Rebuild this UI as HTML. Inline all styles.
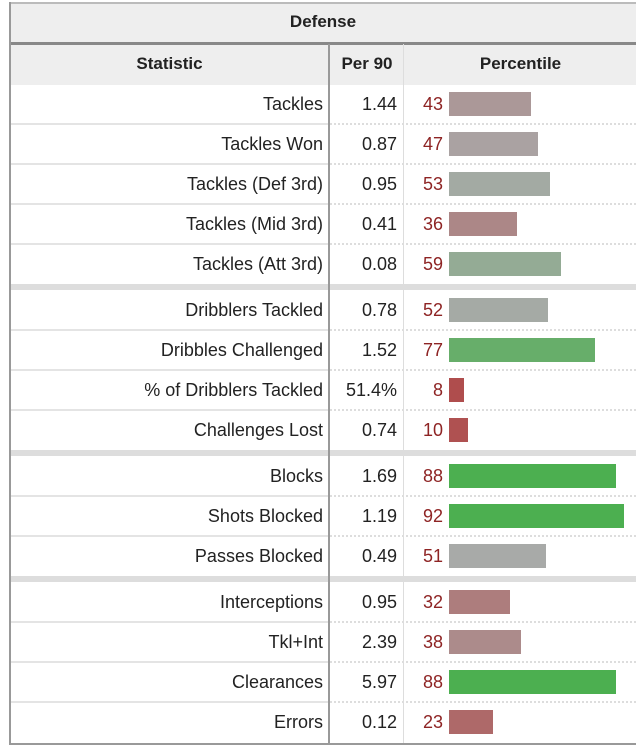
<!DOCTYPE html>
<html><head><meta charset="utf-8">
<style>
body{margin:0;width:636px;height:750px;background:#fff;overflow:hidden;font-family:"Liberation Sans",sans-serif;position:relative}
.a{position:absolute}
.t{position:absolute;font-size:18px;color:#222;line-height:40px;white-space:nowrap}
</style></head><body>
<div class="a" style="left:10px;top:2px;width:626px;height:40px;background:#eee;border-top:2px solid #bbb"></div>
<div class="t" style="left:10px;top:2px;width:626px;text-align:center;font-weight:bold;font-size:17px">Defense</div>
<div class="a" style="left:10px;top:42px;width:626px;height:40px;background:#eee;border-top:3px solid #888"></div>
<div class="t" style="left:10px;top:44px;width:319px;text-align:center;font-weight:bold;font-size:17px">Statistic</div>
<div class="t" style="left:331px;top:44px;width:72px;text-align:center;font-weight:bold;font-size:17px">Per 90</div>
<div class="t" style="left:405px;top:44px;width:231px;text-align:center;font-weight:bold;font-size:17px">Percentile</div>
<div id="rows"></div>
<div class="a" style="left:9px;top:2px;width:2px;height:743px;background:#999"></div>
<div class="a" style="left:328px;top:44px;width:2px;height:700px;background:#999"></div>
<div class="a" style="left:403px;top:44px;width:1px;height:700px;background:#ddd"></div>
<div class="a" style="left:10px;top:743px;width:626px;height:2px;background:#999"></div>
<script>
const stats=["Tackles","Tackles Won","Tackles (Def 3rd)","Tackles (Mid 3rd)","Tackles (Att 3rd)","Dribblers Tackled","Dribbles Challenged","% of Dribblers Tackled","Challenges Lost","Blocks","Shots Blocked","Passes Blocked","Interceptions","Tkl+Int","Clearances","Errors"];
const per90=["1.44","0.87","0.95","0.41","0.08","0.78","1.52","51.4%","0.74","1.69","1.19","0.49","0.95","2.39","5.97","0.12"];
const percentile=[43,47,53,36,59,52,77,8,10,88,92,51,32,38,88,23];
const groupSizes=[5,4,3,4];
const pxPerPct=1.9;
function barX(p){return p*pxPerPct;}
function col(p){
  let a,b,t;
  if(p<=50){a=[176,68,68];b=[170,170,170];t=Math.pow(p/50,1.3);}
  else{a=[170,170,170];b=[76,175,80];t=Math.min(1,(p-50)/38);}
  return 'rgb('+a.map((v,i)=>Math.round(v+(b[i]-v)*t)).join(',')+')';
}
const root=document.getElementById('rows');
let y=84,idx=0;
groupSizes.forEach((n,g)=>{
  if(g>0){
    const s=document.createElement('div');s.className='a';
    
    
    s.style.cssText=`left:10px;top:${y}px;width:626px;height:6px;background:#ddd`;root.appendChild(s);y+=6;
  }
  for(let k=0;k<n;k++,idx++){
    const i=idx;
    if(k>0){
      const l=document.createElement('div');l.className='a';
      
      
      l.style.cssText=`left:10px;top:${y-1}px;width:318px;height:0;border-top:2px solid #e4e4e4`;root.appendChild(l);
      const d=document.createElement('div');d.className='a';
      
      
      d.style.cssText=`left:330px;top:${y-1}px;width:306px;height:0;border-top:2px dotted #ddd`;root.appendChild(d);
    }
    const s=document.createElement('div');s.className='t';
    
    
    s.style.cssText=`left:10px;top:${y}px;width:313px;text-align:right`;s.textContent=stats[i];root.appendChild(s);
    const v=document.createElement('div');v.className='t';
    
    
    v.style.cssText=`left:330px;top:${y}px;width:67px;text-align:right`;v.textContent=per90[i];root.appendChild(v);
    const p=document.createElement('div');p.className='t';
    
    
    p.style.cssText=`left:405px;top:${y}px;width:38px;text-align:right;color:#8e2424`;p.textContent=percentile[i];root.appendChild(p);
    const b=document.createElement('div');b.className='a';
    
    
    b.style.cssText=`left:449px;top:${y+8}px;width:${barX(percentile[i])}px;height:24px;background:${col(percentile[i])}`;root.appendChild(b);
    y+=40;
  }
});
</script>
</body></html>
